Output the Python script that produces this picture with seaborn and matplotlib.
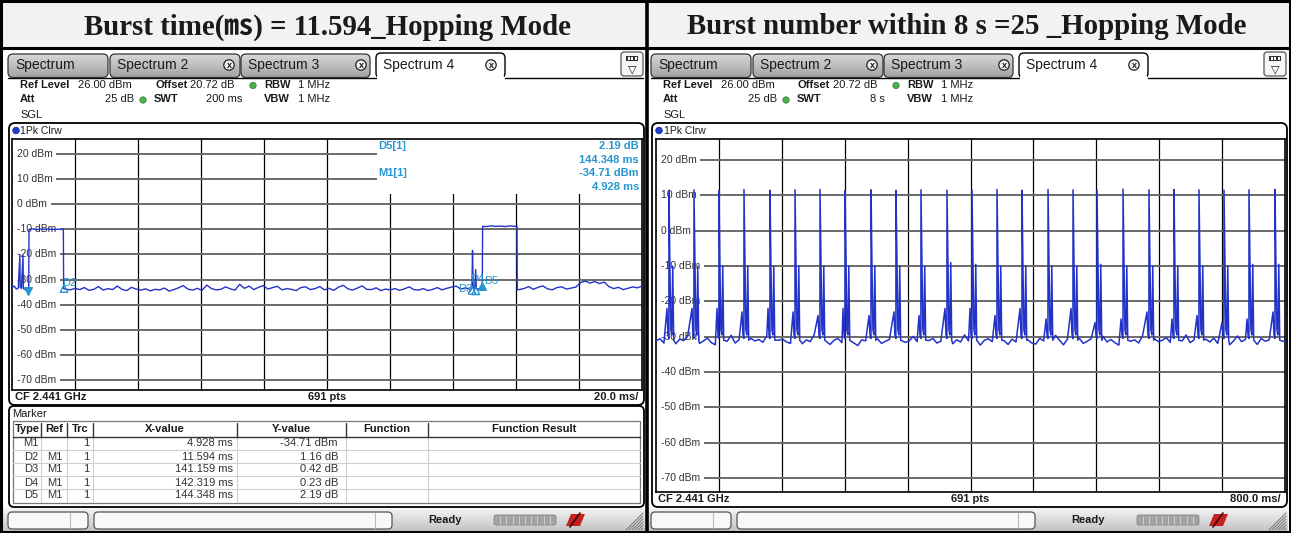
import numpy as np
import pandas as pd
import matplotlib
matplotlib.use("Agg")
import matplotlib.pyplot as plt
import seaborn as sns
from matplotlib.patches import Rectangle, FancyBboxPatch, Circle, Polygon

# ---------------- data ----------------
TITLE_L = "Burst time(㎳) = 11.594_Hopping Mode"
TITLE_R = "Burst number within 8 s =25 _Hopping Mode"
tab_labels = ["Spectrum", "Spectrum 2", "Spectrum 3", "Spectrum 4"]
level_ticks = [20, 10, 0, -10, -20, -30, -40, -50, -60, -70]
ref_level = 26.0
bottom_level = -74.0
left_span_ms = 200.0
right_span_ms = 8000.0

# left panel trace (200 ms sweep)
burst1_ms = [0.0, 0.7, 1.4, 2.0, 2.5, 2.6, 3.0, 3.5, 3.6, 4.2, 4.93, 5.3, 5.4,
             6.5, 7.8, 9.0, 10.3, 11.5, 12.8, 14.0, 15.2, 16.3, 16.4]
burst1_dbm = [-33.2, -32.6, -33.8, -33.4, -20.0, -33.1, -33.5, -20.3, -33.6, -34.0, -34.7, -34.3, -10.0,
              -9.8, -10.1, -9.9, -10.0, -9.8, -10.1, -9.9, -10.0, -9.9, -33.6]
noise1_dbm = [-33.8, -34.1, -33.5, -34.0, -33.2, -34.3, -33.9, -32.8, -34.2, -33.6, -34.0, -32.6, -33.9,
              -34.4, -33.1, -33.8, -34.2, -33.7, -34.5, -33.9, -34.1, -33.4, -34.6, -34.0, -33.3, -32.4,
              -33.8, -34.2, -33.5, -34.3, -32.2, -33.6, -34.1, -33.9, -32.9, -33.7, -34.2, -31.9, -33.5,
              -32.6, -34.0, -33.1, -32.4, -33.8, -33.2, -32.7, -34.1, -33.6, -33.9, -34.4, -33.2, -32.9,
              -34.0, -33.6, -32.8, -34.1, -33.5, -34.3, -33.0, -32.3, -33.7, -34.2, -33.4, -32.5, -33.9,
              -34.0, -33.3, -34.4, -33.8, -34.1, -33.6, -34.3, -33.7, -32.9, -34.0, -34.2, -33.6, -34.4,
              -33.9, -33.2, -34.1, -33.5, -33.0, -32.6, -33.8, -33.3, -34.0]
burst2_ms = [146.0, 146.2, 146.4, 146.9, 147.2, 147.4, 148.3, 149.3, 149.4, 150.5, 152.0, 153.5,
             155.0, 156.5, 158.0, 159.5, 160.3, 160.4]
burst2_dbm = [-33.6, -18.4, -33.2, -33.9, -26.0, -33.5, -33.8, -32.5, -8.8, -8.9, -8.6, -8.8,
              -8.7, -8.9, -8.6, -8.8, -8.7, -34.0]
noise2_dbm = [-34.0, -33.6, -32.8, -33.9, -33.1, -32.5, -33.7, -34.1, -33.2, -32.9, -33.8, -33.4, -33.0,
              -31.2, -30.6, -31.4, -30.8, -31.6, -31.0, -32.8, -33.6, -33.1, -34.0, -33.5, -32.9, -33.3,
              -32.6]

marker_names = ["M1", "D2", "D3", "D4", "D5"]
marker_ms = [4.928, 16.522, 146.087, 147.247, 149.276]
marker_dbm = [-34.71, -33.55, -34.29, -34.48, -32.52]
marker_ref = ["", "M1", "M1", "M1", "M1"]
marker_x_text = ["4.928 ms", "11.594 ms", "141.159 ms", "142.319 ms", "144.348 ms"]
marker_y_text = ["-34.71 dBm", "1.16 dB", "0.42 dB", "0.23 dB", "2.19 dB"]

# right panel trace (8 s sweep, 25 bursts)
burst_ms = [165, 483, 801, 1119, 1450, 1768, 2086, 2404, 2735, 3052, 3370, 3701, 4019,
            4337, 4655, 4986, 5304, 5609, 5940, 6270, 6588, 6906, 7224, 7542, 7873]
burst_peak_dbm = [11.5, 11.6, 11.4, 11.7, 11.5, 11.6, 11.7, 11.4, 11.6, 11.5, 11.6, 11.5, 11.6,
                  11.7, 11.5, 11.7, 11.6, 11.5, 11.8, 11.6, 11.7, 11.6, 11.5, 11.6, 11.7]
burst_pre_dbm = [-22, -22, -22, -23, -22, -23, -24, -22, -24, -23, -24, -22, -22,
                 -24, -22, -25, -22, -26, -25, -23, -25, -24, -26, -25, -23]
burst_mid_dbm = [-10, -9, -10, -8, -10, -9, -9, -7, -10, -7, -9, -8, -9,
                 -8, -10, -9, -8, -9, -8, -9, -10, -9, -8, -9, -10]
burst_post_dbm = [-10, -10, -10, -10, -10, -10, -10, -10, -10, -10, -10, -9, -9.5,
                  -10, -10, -10, -10, -9.5, -10, -10, -10, -10, -10, -9.5, -9.5]
burst_shape_offset_ms = [-25, -13, -1, 0, 12, 24, 36, 48, 60]
floor_dbm = [
    -31.2, -30.6, -31.8, -30.9, -31.4, -32.0, -30.7, -31.1, -29.9, -31.5,
    -30.8, -31.9, -31.2, -30.4, -31.7, -32.3, -31.0, -30.6, -31.3, -29.6,
    -31.8, -30.9, -31.4, -32.1, -30.5, -31.2, -30.8, -31.6, -29.8, -31.1,
    -32.4, -31.0, -30.7, -31.5, -31.9, -30.3, -31.2, -32.0, -30.9, -31.4,
    -29.4, -31.6, -30.8, -31.3, -32.2, -31.0, -30.5, -31.7, -31.1, -30.2,
    -31.8, -32.5, -30.9, -31.2, -29.7, -31.5, -30.6, -31.9, -31.3, -30.8,
    -32.1, -31.0, -30.4, -31.6, -31.2, -29.9, -31.4, -32.3, -30.7, -31.1,
    -30.5, -31.8, -31.3, -30.2, -31.6, -32.0, -30.9, -31.5, -29.5, -31.2,
    -31.7, -30.8, -32.4, -31.0, -30.6, -31.4, -31.9, -30.3, -31.1, -32.2,
    -30.7, -31.5, -29.8, -31.3, -30.9, -31.8, -32.1, -30.5, -31.2, -30.8,
    -31.6, -29.6, -31.0, -32.3, -30.7, -31.4, -31.1, -30.4, -31.9, -31.3,
    -30.6, -32.0, -31.2, -29.9, -31.5, -30.8, -31.7, -32.4, -31.0, -30.5,
    -31.3, -30.9, -31.8, -29.7, -31.1, -32.2, -30.6, -31.4, -31.0, -30.3,
    -31.6, -32.1, -30.8, -31.2, -29.5, -31.7, -30.9, -31.3, -32.0, -30.7,
    -31.5, -30.4, -31.9, -31.1, -30.6, -32.3, -31.2, -29.8, -31.4, -30.8,
    -31.6, -31.0, -32.2, -30.5, -31.3, -30.9, -31.8, -30.2, -31.1, -31.5]

# ---------------- build traces ----------------
left_ms = (list(burst1_ms) + list(np.linspace(17.0, 145.5, len(noise1_dbm))) +
           list(burst2_ms) + list(np.linspace(161.0, 200.0, len(noise2_dbm))))
left_dbm = list(burst1_dbm) + list(noise1_dbm) + list(burst2_dbm) + list(noise2_dbm)
df_left = pd.DataFrame({"ms": left_ms, "dbm": left_dbm})

pts = []
floor_ms = np.linspace(0, right_span_ms, len(floor_dbm))
for t, v in zip(floor_ms, floor_dbm):
    if all(not (b - 35 <= t <= b + 68) for b in burst_ms):
        pts.append((t, v))
for i, b in enumerate(burst_ms):
    vals = [burst_pre_dbm[i], -29.5, -30.5, burst_peak_dbm[i], burst_mid_dbm[i],
            -28.0, -29.5, burst_post_dbm[i], -31.0]
    for o, v in zip(burst_shape_offset_ms, vals):
        pts.append((b + o, v))
pts.sort(key=lambda p: p[0])
df_right = pd.DataFrame(pts, columns=["ms", "dbm"])

# ---------------- figure ----------------
W, H = 1291, 533
sns.set_theme(style="white")
plt.rcParams["font.family"] = ["Liberation Sans", "DejaVu Sans"]
fig = plt.figure(figsize=(W / 100, H / 100), dpi=100)
fig.patch.set_facecolor("white")

TXT = "#1a1a1a"
CYAN = "#2596cf"
TRACE = "#2333c8"


def setup_overlay(a):
    a.set_xlim(0, W)
    a.set_ylim(H, 0)
    a.axis("off")


ui = fig.add_axes([0, 0, 1, 1])
setup_overlay(ui)


def T(a, x, y, s, size=8, weight="normal", ha="left", color=TXT, family=None, z=5):
    kw = {}
    if family:
        kw["family"] = family
    a.text(x, y, s, fontsize=size, fontweight=weight, ha=ha, va="center",
           color=color, zorder=z, **kw)


def rbox(a, x0, y0, x1, y1, fc="white", ec="black", lw=1.0, r=4, z=1):
    p = FancyBboxPatch((x0, y0), x1 - x0, y1 - y0,
                       boxstyle=f"round,pad=0,rounding_size={r}",
                       fc=fc, ec=ec, lw=lw, zorder=z)
    a.add_patch(p)
    return p


def gbox(a, x0, y0, x1, y1, ctop, cbot, ec="black", lw=1.0, r=4, z=1):
    p = rbox(a, x0, y0, x1, y1, fc="none", ec=ec, lw=lw, r=r, z=z + 0.1)
    c1 = np.array(matplotlib.colors.to_rgb(ctop))
    c2 = np.array(matplotlib.colors.to_rgb(cbot))
    t = np.linspace(0, 1, 32)[:, None, None]
    img = c1 * (1 - t) + c2 * t
    im = a.imshow(img, extent=(x0, x1, y1, y0), aspect="auto", zorder=z,
                  interpolation="bilinear")
    im.set_clip_path(p)
    return p


def close_icon(a, x, y):
    a.add_patch(Circle((x, y), 5.2, fc="#f0f0f0", ec="#222", lw=0.9, zorder=4))
    T(a, x, y + 0.2, "x", size=6.5, weight="bold", ha="center", z=5)


# background, title row, borders
ui.add_patch(Rectangle((0, 0), W, 47, fc="#f2f2f2", ec="none", zorder=0.5))
T(ui, 327, 27, TITLE_L, size=20.8, weight="bold", ha="center",
  family=["Liberation Serif", "Noto Sans CJK SC"])
T(ui, 967, 27, TITLE_R, size=20.8, weight="bold", ha="center",
  family=["Liberation Serif", "Noto Sans CJK SC"])


def panel(dx, swt_text, div_text, plot_bottom, box_bottom):
    # tabs
    tabs = [(8, 108, tab_labels[0], False, None),
            (110, 240, tab_labels[1], False, 229),
            (241, 370, tab_labels[2], False, 361),
            (376, 505, tab_labels[3], True, 491)]
    ui.plot([8 + dx, 376 + dx], [77.5, 77.5], color="black", lw=1.0, zorder=1.5)
    ui.plot([505 + dx, 643 + dx], [77.5, 77.5], color="black", lw=1.0, zorder=1.5)
    for x0, x1, lab, act, cx in tabs:
        if act:
            rbox(ui, x0 + dx, 53, x1 + dx, 78, fc="white", ec="black", lw=1.0, r=5, z=2)
            ui.add_patch(Rectangle((x0 + dx + 1, 76), x1 - x0 - 2, 4, fc="white", ec="none", zorder=2.5))
        else:
            gbox(ui, x0 + dx, 54, x1 + dx, 77.5, "#dadada", "#a4a4a4", ec="#333", lw=0.9, r=5, z=2)
        T(ui, x0 + dx + 7, 65.5, lab, size=10, z=3)
        if cx:
            close_icon(ui, cx + dx, 65)
    # menu icon
    rbox(ui, 621 + dx, 52, 643 + dx, 76, fc="#f6f6f6", ec="#555", lw=0.9, r=3, z=2)
    ui.add_patch(Rectangle((626 + dx, 56), 12, 5, fc="#333", ec="none", zorder=3))
    for k in range(3):
        ui.add_patch(Rectangle((627.5 + dx + 3.5 * k, 57), 2, 3, fc="white", ec="none", zorder=3.5))
    T(ui, 632 + dx, 69, "▽", size=8, ha="center", family=["DejaVu Sans"], z=3)

    # settings lines
    T(ui, 20 + dx, 85, "Ref Level", 8, "bold")
    T(ui, 78 + dx, 85, "26.00 dBm", 8)
    T(ui, 155 + dx, 85, "Offset", 8, "bold")
    T(ui, 190 + dx, 85, "20.72 dB", 8)
    ui.add_patch(Circle((253 + dx, 85.5), 3.2, fc="#4cb04c", ec="#2e7d2e", lw=0.5, zorder=3))
    T(ui, 264 + dx, 85, "RBW", 8, "bold")
    T(ui, 298 + dx, 85, "1 MHz", 8)
    T(ui, 20 + dx, 99.5, "Att", 8, "bold")
    T(ui, 134 + dx, 99.5, "25 dB", 8, ha="right")
    ui.add_patch(Circle((143 + dx, 100), 3.2, fc="#4cb04c", ec="#2e7d2e", lw=0.5, zorder=3))
    T(ui, 154 + dx, 99.5, "SWT", 8, "bold")
    T(ui, 242 + dx, 99.5, swt_text, 8, ha="right")
    T(ui, 264 + dx, 99.5, "VBW", 8, "bold")
    T(ui, 298 + dx, 99.5, "1 MHz", 8)
    T(ui, 20 + dx, 114.5, "SGL", 8)

    # plot box
    rbox(ui, 9 + dx, 123, 644 + dx, box_bottom, fc="white", ec="black", lw=1.3, r=6, z=1)
    ui.add_patch(Circle((16 + dx, 130.5), 3.3, fc="#1f3fd0", ec="#10208a", lw=0.5, zorder=3))
    T(ui, 20.5 + dx, 130.5, "1Pk Clrw", 7.5)
    fy = plot_bottom + 7.5
    T(ui, 15 + dx, fy, "CF 2.441 GHz", 8, "bold")
    T(ui, 327 + dx, fy, "691 pts", 8, "bold", ha="center")
    T(ui, 638 + dx, fy, div_text, 8, "bold", ha="right")

    # status bar
    gbox(ui, 3 + dx, 508, 645 + dx, 531, "#f4f4f4", "#c4c4c4", ec="none", lw=0, r=0.1, z=0.8)
    rbox(ui, 8 + dx, 512, 88 + dx, 529, fc="#f8f8f8", ec="#555", lw=0.9, r=4, z=2)
    ui.plot([70 + dx, 70 + dx], [513, 528], color="#bbb", lw=0.8, zorder=3)
    rbox(ui, 94 + dx, 512, 392 + dx, 529, fc="#f8f8f8", ec="#555", lw=0.9, r=4, z=2)
    ui.plot([375 + dx, 375 + dx], [513, 528], color="#bbb", lw=0.8, zorder=3)
    T(ui, 428 + dx, 520, "Ready", 8, "bold")
    rbox(ui, 494 + dx, 515, 556 + dx, 525, fc="#a3a3a3", ec="#888", lw=0.6, r=2, z=2)
    for k in range(1, 10):
        ui.plot([494 + dx + 6.2 * k] * 2, [516, 524], color="#d6d6d6", lw=0.6, zorder=3)
    ui.add_patch(Polygon([(566 + dx, 526), (571 + dx, 514), (585 + dx, 514), (580 + dx, 526)],
                         closed=True, fc="#c62020", ec="none", zorder=3))
    ui.plot([570 + dx, 580 + dx], [527, 513], color="#3a0a0a", lw=1.2, zorder=4)
    for k in range(6):
        ui.plot([626 + 3 * k + dx, 643 + dx], [530, 513 + 3 * k], color="#777", lw=0.7, zorder=3)


panel(0, "200 ms", "20.0 ms/", 390, 405)
panel(643, "8 s", "800.0 ms/", 492, 507)

# marker table (left)
rbox(ui, 9, 406, 644, 507, fc="white", ec="black", lw=1.3, r=5, z=1)
T(ui, 12, 414, "Marker", 8)
ui.add_patch(Rectangle((13, 421), 627, 82, fc="white", ec="#777", lw=0.9, zorder=2))
cols = [13, 41, 67, 93, 237, 346, 428, 640]
headers = ["Type", "Ref", "Trc", "X-value", "Y-value", "Function", "Function Result"]
for i, h in enumerate(headers):
    T(ui, (cols[i] + cols[i + 1]) / 2, 429.5, h, 8, "bold", ha="center", z=4)
for c in cols[1:-1]:
    ui.plot([c, c], [423, 436], color="#333", lw=1.0, zorder=3)
    ui.plot([c, c], [437, 502], color="#cfcfcf", lw=0.8, zorder=3)
ui.plot([13, 640], [437, 437], color="#333", lw=1.0, zorder=3)
row_y = [443.5, 456.5, 469.5, 482.5, 495.5]
for k, y in enumerate(row_y):
    if k > 0:
        ui.plot([13, 640], [y - 6.5, y - 6.5], color="#cfcfcf", lw=0.8, zorder=3)
    T(ui, 38, y, marker_names[k], 8, ha="right", color="#333", z=4)
    T(ui, 63, y, marker_ref[k], 8, ha="right", color="#333", z=4)
    T(ui, 89, y, "1", 8, ha="right", color="#333", z=4)
    T(ui, 233, y, marker_x_text[k], 8, ha="right", color="#333", z=4)
    T(ui, 338, y, marker_y_text[k], 8, ha="right", color="#333", z=4)

# borders
ui.plot([0, W], [47.5, 47.5], color="black", lw=2.2, zorder=6)
ui.plot([647, 647], [0, H], color="black", lw=2.6, zorder=6)
ui.add_patch(Rectangle((1, 1), W - 2, H - 2, fill=False, ec="black", lw=2.2, zorder=6))
setup_overlay(ui)


# ---------------- plot axes ----------------
def make_ax(x0, x1, y0, y1):
    return fig.add_axes([x0 / W, 1 - y1 / H, (x1 - x0) / W, (y1 - y0) / H])


def style_ax(ax, span, width_px):
    ax.set_xlim(0, span)
    ax.set_ylim(bottom_level, ref_level)
    ax.set_facecolor("white")
    ax.set_xlabel("")
    ax.set_ylabel("")
    ax.set_xticks([])
    ax.set_yticks([])
    for k in range(1, 10):
        ax.axvline(span * k / 10, color="black", lw=0.9, zorder=1)
    for v in level_ticks:
        ax.axhline(v, color="#6a6a6a", lw=1.4, zorder=1)
        ax.text(5 / width_px, v, f"{v} dBm", transform=ax.get_yaxis_transform(),
                fontsize=7.5, color="#333", ha="left", va="center", zorder=2,
                bbox=dict(boxstyle="square,pad=0.35", fc="white", ec="none"))
    for s in ax.spines.values():
        s.set_color("black")
        s.set_linewidth(1.2)


axL = make_ax(12, 642, 139, 390)
sns.lineplot(data=df_left, x="ms", y="dbm", ax=axL, color=TRACE, lw=1.0,
             estimator=None, sort=False, zorder=3)
style_ax(axL, left_span_ms, 630)
# marker info area
axL.add_patch(Rectangle((115.9, 4.1), 84.1, 22.0, fc="white", ec="none", zorder=1.2))
# marker symbols
axL.scatter([marker_ms[0]], [marker_dbm[0]], marker="v", s=30, color=CYAN, zorder=4)
axL.scatter(marker_ms[1:4], marker_dbm[1:4], marker="^", s=30, facecolors="none",
            edgecolors=CYAN, linewidths=1.0, zorder=4)
axL.scatter([marker_ms[4]], [marker_dbm[4]], marker="^", s=30, color=CYAN, zorder=4)

axR = make_ax(656, 1285, 139, 492)
sns.lineplot(data=df_right, x="ms", y="dbm", ax=axR, color=TRACE, lw=1.1,
             estimator=None, sort=False, zorder=3)
style_ax(axR, right_span_ms, 629)

# ---------------- top overlay texts ----------------
top = fig.add_axes([0, 0, 1, 1])
top.set_zorder(10)
setup_overlay(top)
T(top, 378, 146, "D5[1]", 8, "bold", color=CYAN)
T(top, 639, 146, "2.19 dB", 8, "bold", ha="right", color=CYAN)
T(top, 639, 160, "144.348 ms", 8, "bold", ha="right", color=CYAN)
T(top, 378, 173, "M1[1]", 8, "bold", color=CYAN)
T(top, 639, 173, "-34.71 dBm", 8, "bold", ha="right", color=CYAN)
T(top, 639, 187, "4.928 ms", 8, "bold", ha="right", color=CYAN)
T(top, 62, 283, "D2", 8, color=CYAN)
T(top, 458, 289, "D3", 8, color=CYAN)
T(top, 470, 279, "D4", 8, color=CYAN)
T(top, 484, 281, "D5", 8, color=CYAN)

fig.savefig("out.png", dpi=100, facecolor="white")
